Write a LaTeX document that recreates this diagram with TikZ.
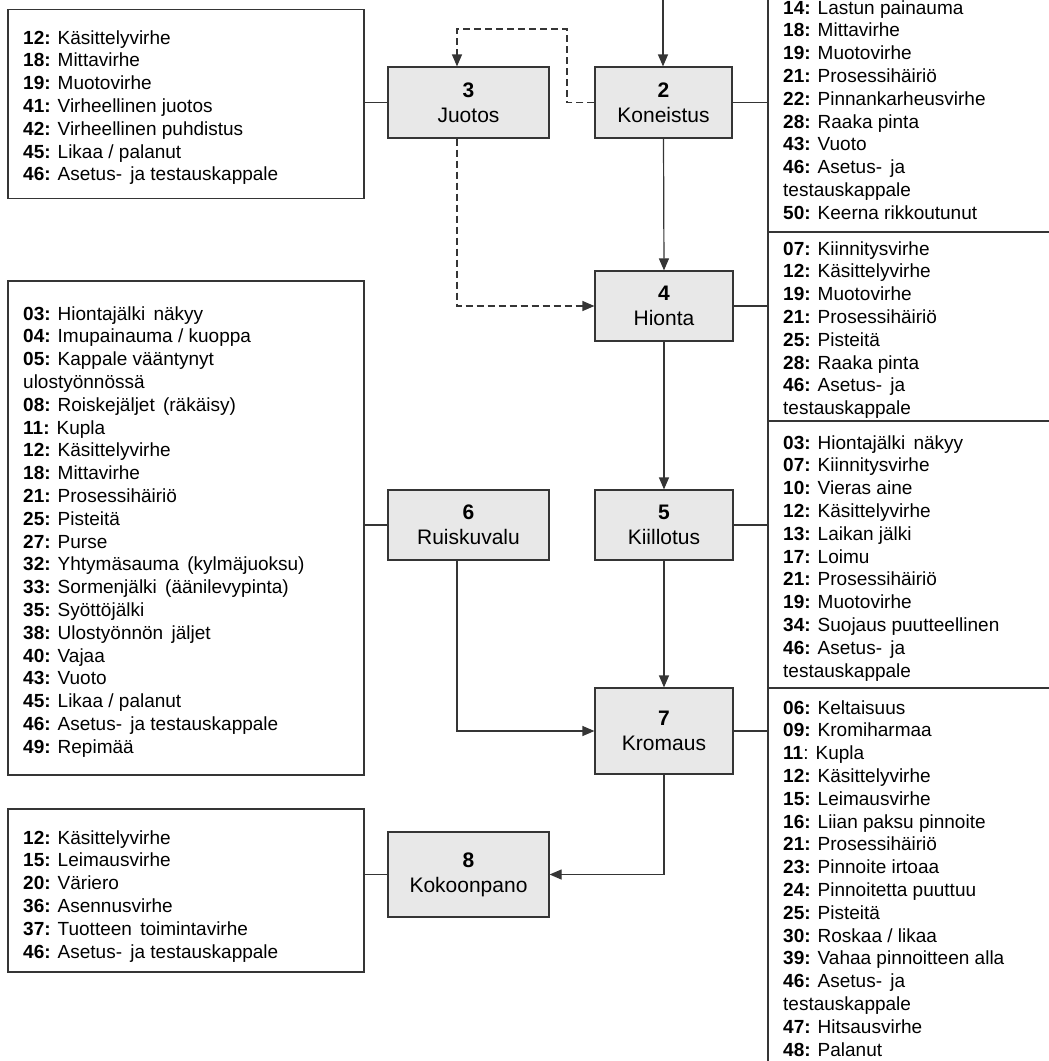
\documentclass[tikz,border=0pt]{standalone}
\usepackage{fontspec}
\setmainfont{Liberation Sans}
\usetikzlibrary{arrows.meta}
\definecolor{boxfill}{HTML}{E8E8E8}
\definecolor{edge}{HTML}{353535}
\newcommand{\fs}{\fontsize{19bp}{22.8bp}\selectfont}
\newcommand{\fb}{\fontsize{21bp}{25bp}\selectfont}
\newcommand{\sk}{\rule{0pt}{18bp}}
\newcommand{\gp}{\hspace{3bp}}
\newcommand{\nr}[1]{\textbf{#1:}}
\begin{document}
\begin{tikzpicture}[x=1bp,y=-1bp,
  procbox/.style={draw=edge, line width=1.2bp, fill=boxfill, align=center, inner sep=0pt, font=\fb},
  listbox/.style={draw=edge, line width=1.2bp, inner sep=0pt},
  listtext/.style={anchor=north west, align=left, inner sep=0pt, font=\fs},
  conn/.style={draw=edge, line width=1.2bp},
  arr/.style={conn, -{Triangle[length=12bp,width=10bp]}},
  dconn/.style={conn, dash pattern=on 7bp off 4bp},
]
\useasboundingbox (0,0) rectangle (1049,1061);

% process boxes
\node[procbox, minimum width=137bp, minimum height=71bp] (b2) at (663.5,102.5) {\textbf{2}\\Koneistus};
\node[procbox, minimum width=161bp, minimum height=71bp] (b3) at (468.5,102.5) {\textbf{3}\\Juotos};
\node[procbox, minimum width=138bp, minimum height=70bp] (b4) at (664,306) {\textbf{4}\\Hionta};
\node[procbox, minimum width=138bp, minimum height=70bp] (b5) at (664,525) {\textbf{5}\\Kiillotus};
\node[procbox, minimum width=161bp, minimum height=70bp] (b6) at (468.5,525) {\textbf{6}\\Ruiskuvalu};
\node[procbox, minimum width=138bp, minimum height=86bp] (b7) at (664,731) {\textbf{7}\\Kromaus};
\node[procbox, minimum width=161bp, minimum height=85bp] (b8) at (468.5,874.5) {\textbf{8}\\Kokoonpano};

% list boxes left
\node[listbox, minimum width=356bp, minimum height=188.5bp] (L1) at (186,104) {};
\node[listbox, minimum width=356bp, minimum height=494bp] (L2) at (186,528) {};
\node[listbox, minimum width=356bp, minimum height=163bp] (L3) at (186,890.5) {};

% list boxes right column
\node[listbox, minimum width=294bp, minimum height=242bp] (R1) at (915,111) {};
\node[listbox, minimum width=294bp, minimum height=189bp] (R2) at (915,326.5) {};
\node[listbox, minimum width=294bp, minimum height=267bp] (R3) at (915,554.5) {};
\node[listbox, minimum width=294bp, minimum height=384bp] (R4) at (915,880) {};

% texts
\node[listtext] (tL1) at (23,25.8) {\sk\nr{12} Käsittelyvirhe\\
\nr{18} Mittavirhe\\
\nr{19} Muotovirhe\\
\nr{41} Virheellinen juotos\\
\nr{42} Virheellinen puhdistus\\
\nr{45} Likaa / palanut\\
\nr{46} Asetus-\gp{} ja testauskappale};

\node[listtext] (tL2) at (23,301.8) {\sk\nr{03} Hiontajälki\gp{} näkyy\\
\nr{04} Imupainauma / kuoppa\\
\nr{05} Kappale vääntynyt\\
ulostyönnössä\\
\nr{08} Roiskejäljet\gp{} (räkäisy)\\
\nr{11} Kupla\\
\nr{12} Käsittelyvirhe\\
\nr{18} Mittavirhe\\
\nr{21} Prosessihäiriö\\
\nr{25} Pisteitä\\
\nr{27} Purse\\
\nr{32} Yhtymäsauma\gp{} (kylmäjuoksu)\\
\nr{33} Sormenjälki\gp{} (äänilevypinta)\\
\nr{35} Syöttöjälki\\
\nr{38} Ulostyönnön\gp{} jäljet\\
\nr{40} Vajaa\\
\nr{43} Vuoto\\
\nr{45} Likaa / palanut\\
\nr{46} Asetus-\gp{} ja testauskappale\\
\nr{49} Repimää};

\node[listtext] (tL3) at (23,825.8) {\sk\nr{12} Käsittelyvirhe\\
\nr{15} Leimausvirhe\\
\nr{20} Väriero\\
\nr{36} Asennusvirhe\\
\nr{37} Tuotteen\gp{} toimintavirhe\\
\nr{46} Asetus-\gp{} ja testauskappale};

\node[listtext] (tR1) at (783,-4.2) {\sk\nr{14} Lastun painauma\\
\nr{18} Mittavirhe\\
\nr{19} Muotovirhe\\
\nr{21} Prosessihäiriö\\
\nr{22} Pinnankarheusvirhe\\
\nr{28} Raaka pinta\\
\nr{43} Vuoto\\
\nr{46} Asetus-\gp{} ja\\
testauskappale\\
\nr{50} Keerna rikkoutunut};

\node[listtext] (tR2) at (783,236.8) {\sk\nr{07} Kiinnitysvirhe\\
\nr{12} Käsittelyvirhe\\
\nr{19} Muotovirhe\\
\nr{21} Prosessihäiriö\\
\nr{25} Pisteitä\\
\nr{28} Raaka pinta\\
\nr{46} Asetus-\gp{} ja\\
testauskappale};

\node[listtext] (tR3) at (783,430.8) {\sk\nr{03} Hiontajälki\gp{} näkyy\\
\nr{07} Kiinnitysvirhe\\
\nr{10} Vieras aine\\
\nr{12} Käsittelyvirhe\\
\nr{13} Laikan jälki\\
\nr{17} Loimu\\
\nr{21} Prosessihäiriö\\
\nr{19} Muotovirhe\\
\nr{34} Suojaus puutteellinen\\
\nr{46} Asetus-\gp{} ja\\
testauskappale};

\node[listtext] (tR4) at (783,695.8) {\sk\nr{06} Keltaisuus\\
\nr{09} Kromiharmaa\\
\textbf{11}: Kupla\\
\nr{12} Käsittelyvirhe\\
\nr{15} Leimausvirhe\\
\nr{16} Liian paksu pinnoite\\
\nr{21} Prosessihäiriö\\
\nr{23} Pinnoite irtoaa\\
\nr{24} Pinnoitetta puuttuu\\
\nr{25} Pisteitä\\
\nr{30} Roskaa / likaa\\
\nr{39} Vahaa pinnoitteen alla\\
\nr{46} Asetus-\gp{} ja\\
testauskappale\\
\nr{47} Hitsausvirhe\\
\nr{48} Palanut};

% connectors
\coordinate (top) at (663,-5);
\coordinate (d1) at (567,29);
\coordinate (d2) at (457,29);
\draw[arr] (top) -- (top |- b2.north);
\draw[arr] (b2.south) -- (b4.north);
\draw[arr] (b4.south) -- (b5.north);
\draw[arr] (b5.south) -- (b7.north);
\draw[arr] (b7.south) |- (b8.east);
\draw[arr] (b6.south -| d2) |- (b7.west);
\draw[dconn, -{Triangle[length=12bp,width=10bp]}] (b2.west) -| (d1) -- (d2) -- (d2 |- b3.north);
\draw[dconn, -{Triangle[length=12bp,width=10bp]}] (d2 |- b3.south) |- (b4.west);

\draw[conn] (b3.west) -- (b3.west -| L1.east);
\draw[conn] (b6.west) -- (b6.west -| L2.east);
\draw[conn] (b8.west) -- (b8.west -| L3.east);
\draw[conn] (b2.east) -- (b2.east -| R1.west);
\draw[conn] (b4.east) -- (b4.east -| R2.west);
\draw[conn] (b5.east) -- (b5.east -| R3.west);
\draw[conn] (b7.east) -- (b7.east -| R4.west);
\end{tikzpicture}
\end{document}
